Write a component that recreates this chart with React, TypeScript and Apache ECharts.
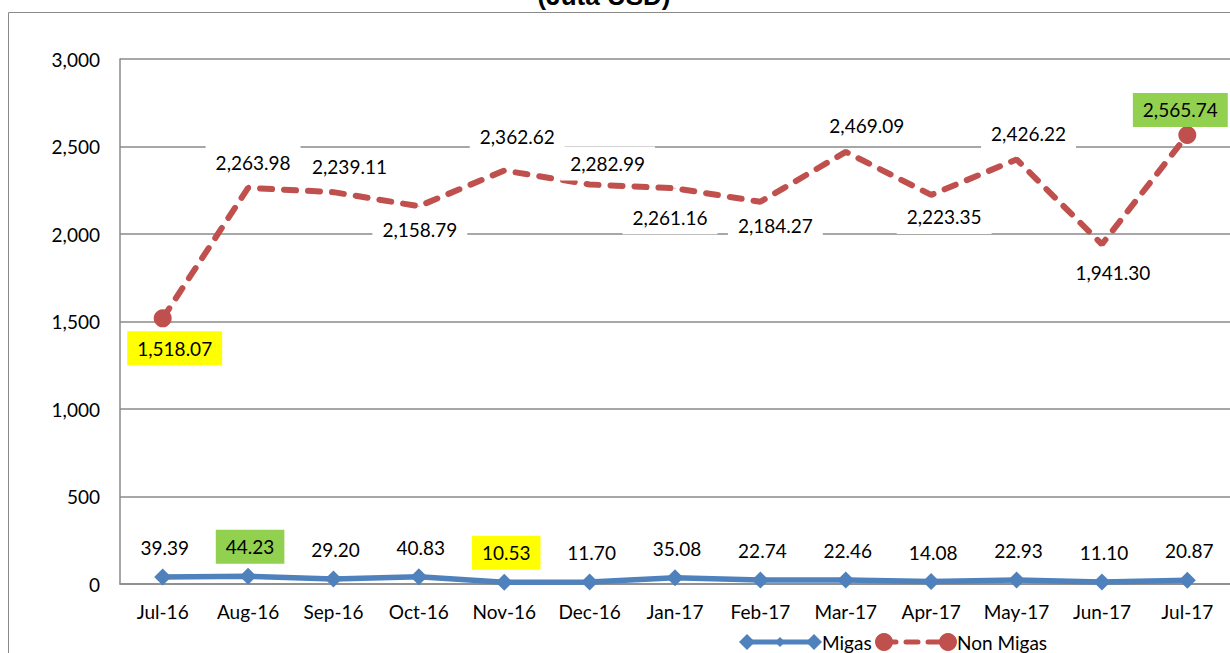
import React, { useEffect, useRef } from "react";
import * as echarts from "echarts";

const categories = ["Jul-16", "Aug-16", "Sep-16", "Oct-16", "Nov-16", "Dec-16", "Jan-17", "Feb-17", "Mar-17", "Apr-17", "May-17", "Jun-17", "Jul-17"];
const migas = [39.39, 44.23, 29.2, 40.83, 10.53, 11.7, 35.08, 22.74, 22.46, 14.08, 22.93, 11.1, 20.87];
const nonMigas = [1518.07, 2263.98, 2239.11, 2158.79, 2362.62, 2282.99, 2261.16, 2184.27, 2469.09, 2223.35, 2426.22, 1941.3, 2565.74];
const seriesNames = ["Migas", "Non Migas"];
const yMin = 0;
const yMax = 3000;
const yStep = 500;

// label placement (style, not data)
const nonMigasLabelOffsets: number[][] = [
  [12, 30], [5, -25], [16, -26], [1, 23], [13, -34], [18, -21], [-5, 29],
  [15, 24], [21, -26], [13, 22], [12, -26], [11, 28], [-7, -25],
];
const GREEN = "#92D050";
const YELLOW = "#FFFF00";
const BLUE = "#4F81BD";
const RED = "#C0504D";
const migasHighlight: Record<number, string> = { 1: GREEN, 4: YELLOW };
const nonMigasHighlight: Record<number, string> = { 0: YELLOW, 12: GREEN };

const FONT = "Lato";
const FS = 19;
const fmt = (v: number) =>
  v.toLocaleString("en-US", { minimumFractionDigits: 2, maximumFractionDigits: 2 });

const diamond = (cx: number, cy: number, r: number, fill: string) => ({
  type: "polygon",
  shape: { points: [[cx, cy - r], [cx + r, cy], [cx, cy + r], [cx - r, cy]] },
  style: { fill },
  silent: true,
});

export default function App() {
  const ref = useRef<HTMLDivElement>(null);
  useEffect(() => {
    if (!ref.current) return;
    const chart = echarts.init(ref.current, null, { renderer: "svg" });
    const baseLabel = {
      show: true,
      color: "#000",
      fontFamily: FONT,
      fontSize: FS,
      lineHeight: 22,
      padding: [6, 10],
      backgroundColor: "#fff",
      formatter: (p: any) => fmt(p.value),
    };
    const last = nonMigas.length - 1;
    const ly = 642;
    chart.setOption({
      animation: false,
      backgroundColor: "#fff",
      textStyle: { fontFamily: FONT },
      graphic: [
        {
          type: "rect",
          shape: { x: 8.5, y: 12.5, width: 1400, height: 800 },
          style: { fill: "none", stroke: "#8a8a8a", lineWidth: 1 },
          silent: true,
        },
        {
          type: "text",
          x: 604,
          y: -4,
          style: {
            text: "(Juta USD)",
            font: "bold 26px 'Liberation Sans', Arial, sans-serif",
            fill: "#000",
            align: "center",
            verticalAlign: "middle",
          },
        },
        // legend: Migas
        {
          type: "line",
          shape: { x1: 747, y1: ly, x2: 814, y2: ly },
          style: { stroke: BLUE, lineWidth: 5 },
          silent: true,
        },
        diamond(747, ly, 8, BLUE),
        diamond(780, ly, 5, BLUE),
        diamond(814, ly, 8, BLUE),
        {
          type: "text",
          x: 822,
          y: ly,
          style: { text: seriesNames[0], font: `${FS}px ${FONT}`, fill: "#000", align: "left", verticalAlign: "middle" },
        },
        // legend: Non Migas
        {
          type: "line",
          shape: { x1: 884, y1: ly, x2: 948, y2: ly },
          style: { stroke: RED, lineWidth: 5, lineDash: [12, 10], lineCap: "round" },
          silent: true,
        },
        { type: "circle", shape: { cx: 884, cy: ly, r: 9 }, style: { fill: RED }, silent: true },
        { type: "circle", shape: { cx: 948, cy: ly, r: 9 }, style: { fill: RED }, silent: true },
        {
          type: "text",
          x: 957,
          y: ly,
          style: { text: seriesNames[1], font: `${FS}px ${FONT}`, fill: "#000", align: "left", verticalAlign: "middle" },
        },
      ],
      grid: { left: 120, top: 59, width: 1114.4, height: 525 },
      xAxis: {
        type: "category",
        data: categories,
        boundaryGap: true,
        axisLine: { lineStyle: { color: "#8a8a8a", width: 1.5 } },
        axisTick: { show: false },
        axisLabel: { color: "#000", fontFamily: FONT, fontSize: FS, margin: 18, interval: 0 },
      },
      yAxis: {
        type: "value",
        min: yMin,
        max: yMax,
        interval: yStep,
        axisLine: { show: true, lineStyle: { color: "#8a8a8a", width: 1.5 } },
        axisTick: { show: false },
        splitLine: { lineStyle: { color: "#8a8a8a", width: 1.5 } },
        axisLabel: {
          color: "#000",
          fontFamily: FONT,
          fontSize: FS,
          margin: 20,
          formatter: (v: number) => v.toLocaleString("en-US"),
        },
      },
      series: [
        {
          name: seriesNames[0],
          type: "line",
          symbol: "diamond",
          symbolSize: 17,
          color: BLUE,
          lineStyle: { color: BLUE, width: 5.5 },
          itemStyle: { color: BLUE },
          z: 3,
          data: migas.map((v, i) => ({
            value: v,
            label: {
              ...baseLabel,
              position: "top",
              distance: 4,
              offset: [2, 0],
              backgroundColor: migasHighlight[i] || "#fff",
            },
          })),
        },
        {
          name: seriesNames[1],
          type: "line",
          symbol: "circle",
          symbolSize: 18,
          color: RED,
          lineStyle: { color: RED, width: 6, type: [12, 12], cap: "round" },
          itemStyle: { color: RED },
          z: 2,
          data: nonMigas.map((v, i) => ({
            value: v,
            symbolSize: i === 0 || i === last ? 18 : 1,
            label: {
              ...baseLabel,
              position: "inside",
              offset: nonMigasLabelOffsets[i],
              backgroundColor: nonMigasHighlight[i] || "#fff",
            },
          })),
        },
      ],
    });
    return () => chart.dispose();
  }, []);
  return (
    <div
      ref={ref}
      style={{ position: "fixed", left: 0, top: 0, width: 1230, height: 653 }}
    />
  );
}
